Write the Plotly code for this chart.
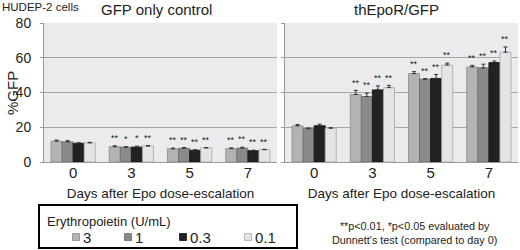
import plotly.graph_objects as go

days = ["0", "3", "5", "7"]
doses = ["3", "1", "0.3", "0.1"]
colors = ["#b3b3b3", "#8a8a8a", "#222222", "#e4e4e4"]
edge = ["#8a8a8a", "#6a6a6a", "#111111", "#a8a8a8"]

# GFP only control: values per dose (rows) across days (cols)
ctrl_vals = [
    [12.0, 8.8, 7.6, 7.7],
    [11.6, 8.5, 7.9, 8.0],
    [10.8, 8.6, 6.8, 6.5],
    [11.0, 9.2, 8.1, 7.1],
]
ctrl_err = [
    [0.6, 0.5, 0.4, 0.4],
    [0.7, 0.3, 0.4, 0.5],
    [0.3, 0.5, 0.3, 0.3],
    [0.3, 0.3, 0.2, 0.2],
]
ctrl_sig = [
    ["", "**", "**", "**"],
    ["", "*", "**", "**"],
    ["", "*", "**", "**"],
    ["", "**", "**", "**"],
]

# thEpoR/GFP
epor_vals = [
    [20.8, 38.9, 50.9, 54.7],
    [19.2, 37.7, 47.7, 54.2],
    [20.9, 41.5, 48.1, 57.2],
    [19.4, 42.8, 55.8, 63.2],
]
epor_err = [
    [0.8, 2.3, 1.1, 0.9],
    [0.4, 1.9, 0.3, 2.1],
    [0.9, 2.3, 2.3, 0.9],
    [0.4, 1.3, 1.1, 3.0],
]
epor_sig = [
    ["", "**", "**", "**"],
    ["", "**", "**", "**"],
    ["", "**", "**", "**"],
    ["", "**", "**", "**"],
]

W, H = 520, 250
L, R, T, B = 44, 2, 23, 88
pw = W - L - R
ph = H - T - B


def px(x):
    return (x - L) / pw


def py(y):
    return (H - B - y) / ph


fig = go.Figure()

panels = [("x", "y", ctrl_vals, ctrl_err, ctrl_sig),
          ("x2", "y2", epor_vals, epor_err, epor_sig)]

annotations = []
n = len(doses)
for xa, ya, vals, errs, sigs in panels:
    for i, d in enumerate(doses):
        fig.add_trace(go.Bar(
            x=days, y=vals[i], xaxis=xa, yaxis=ya, name=d,
            marker=dict(color=colors[i], line=dict(color=edge[i], width=0.8)),
            error_y=dict(type="data", symmetric=False, array=errs[i],
                         arrayminus=[0] * len(days), color="#333333",
                         thickness=1, width=2),
            showlegend=False,
        ))
        # significance stars
        for j, day in enumerate(days):
            if sigs[i][j]:
                annotations.append(dict(
                    x=j, y=vals[i][j] + errs[i][j] + 4.5,
                    xref=xa, yref=ya, text=sigs[i][j], showarrow=False,
                    font=dict(size=9, color="#222"),
                    xshift=(i - (n - 1) / 2) * 11.0,
                    yanchor="middle",
                ))

axis_common = dict(
    type="category", range=[-0.5, len(days) - 0.5], autorange=False,
    showgrid=False, showline=True, linecolor="#9a9a9a",
    linewidth=1, ticks="", tickfont=dict(size=15, color="#222"),
    ticklabelstandoff=-3,
    title=dict(text="Days after Epo dose-escalation",
               font=dict(size=13.5, color="#222"), standoff=8),
    automargin=False,
)
yaxis_common = dict(
    range=[0, 80], dtick=20, showgrid=True, gridcolor="#a6a6a6", gridwidth=1,
    showline=True, linecolor="#9a9a9a", linewidth=1, zeroline=False,
    ticks="outside", ticklen=3, tickcolor="#9a9a9a",
    tickfont=dict(size=14, color="#222"), automargin=False,
)

gap = 8
lw = (pw - gap) / 2

fig.update_layout(
    width=W, height=H,
    margin=dict(l=L, r=R, t=T, b=B, autoexpand=False),
    paper_bgcolor="white",
    plot_bgcolor="#ebebeb",
    barmode="group", bargap=0.24, bargroupgap=0,
    font=dict(family="Liberation Sans, Arial", color="#222"),
    xaxis=dict(domain=[0, lw / pw], anchor="y", **axis_common),
    xaxis2=dict(domain=[(lw + gap) / pw, 1], anchor="y2", **axis_common),
    yaxis=dict(anchor="x", ticklabelstandoff=6, **yaxis_common),
    yaxis2=dict(anchor="x2", matches="y", showticklabels=False, **yaxis_common),
)

# titles & texts
annotations += [
    dict(text="HUDEP-2 cells", x=px(0), y=py(7), xref="paper", yref="paper",
         xanchor="left", yanchor="middle", showarrow=False,
         font=dict(size=11.5, color="#222")),
    dict(text="GFP only control", x=px(156), y=py(10), xref="paper", yref="paper",
         xanchor="center", yanchor="middle", showarrow=False,
         font=dict(size=15, color="#222")),
    dict(text="thEpoR/GFP", x=px(396), y=py(10), xref="paper", yref="paper",
         xanchor="center", yanchor="middle", showarrow=False,
         font=dict(size=15, color="#222")),
    dict(text="%GFP", x=px(12), y=py(93), xref="paper", yref="paper",
         xanchor="center", yanchor="middle", showarrow=False, textangle=-90,
         font=dict(size=15, color="#222")),
    dict(text="Erythropoietin (U/mL)", x=px(45), y=py(221), xref="paper",
         yref="paper", xanchor="left", yanchor="middle", showarrow=False,
         font=dict(size=13, color="#222")),
    dict(text="**p<0.01, *p<0.05 evaluated by<br>Dunnett's test (compared to day 0)",
         x=px(414), y=py(232.5), xref="paper", yref="paper", xanchor="center",
         yanchor="middle", showarrow=False, align="center",
         font=dict(size=10.8, color="#222")),
]

shapes = [dict(type="rect", xref="paper", yref="paper",
               x0=px(39), x1=px(297), y0=py(248), y1=py(205),
               line=dict(color="black", width=2), fillcolor="white", layer="below")]

leg_x = [76, 128, 183, 248]
for i, d in enumerate(doses):
    cx = leg_x[i]
    shapes.append(dict(type="rect", xref="paper", yref="paper",
                       x0=px(cx - 3.5), x1=px(cx + 3.5), y0=py(240.5), y1=py(233.5),
                       line=dict(color=edge[i], width=0.8), fillcolor=colors[i]))
    annotations.append(dict(text=d, x=px(cx + 5), y=py(237), xref="paper",
                            yref="paper", xanchor="left", yanchor="middle",
                            showarrow=False, font=dict(size=15, color="#222")))

fig.update_layout(annotations=annotations, shapes=shapes)

fig.write_html(
    "out.html",
    config={"displayModeBar": False},
    post_script="document.body.style.margin='0';document.body.style.padding='0';"
                "document.body.style.overflow='hidden';",
)
